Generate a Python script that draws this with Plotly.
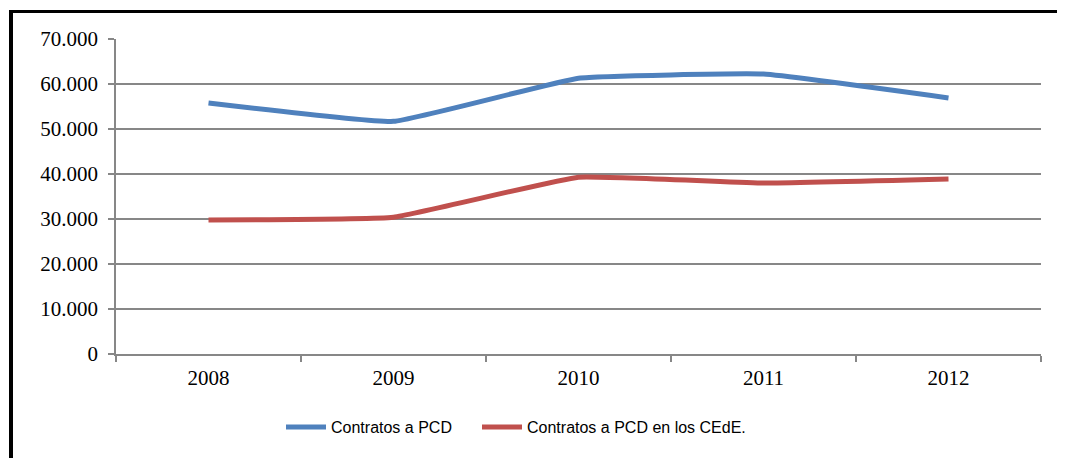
import plotly.graph_objects as go

years = ["2008", "2009", "2010", "2011", "2012"]
contratos_pcd = [55800, 51700, 61300, 62200, 56900]
contratos_cede = [29800, 30400, 39300, 38000, 38900]
y_ticks = [0, 10000, 20000, 30000, 40000, 50000, 60000, 70000]

fig = go.Figure()
fig.add_trace(go.Scatter(x=years, y=contratos_pcd, mode="lines", name="Contratos a PCD",
                         legend="legend",
                         line=dict(color="#4F81BD", width=5, shape="spline", smoothing=0.3)))
fig.add_trace(go.Scatter(x=years, y=contratos_cede, mode="lines", name="Contratos a PCD en los CEdE.",
                         legend="legend2",
                         line=dict(color="#C0504D", width=5, shape="spline", smoothing=0.3)))

# page body has an 8px offset; work in page coordinates
OFF = 8
W, H = 1065 - OFF, 458 - OFF
L, R, T, B = 116 - OFF, 24, 39 - OFF, 104
pw, ph = W - L - R, H - T - B

def px(x):
    return (x - OFF - L) / pw

def py(y):
    return (H - B - (y - OFF)) / ph

legend_style = dict(orientation="h", xanchor="left", y=py(427), yanchor="middle",
                    font=dict(family="Liberation Sans", size=16, color="black"),
                    itemwidth=40, bgcolor="rgba(0,0,0,0)")

fig.update_layout(
    template="none",
    width=W, height=H,
    margin=dict(l=L, r=R, t=T, b=B, autoexpand=False),
    paper_bgcolor="white", plot_bgcolor="white",
    separators=",.",
    showlegend=True,
    legend=dict(x=px(281), **legend_style),
    legend2=dict(x=px(477), **legend_style),
    xaxis=dict(type="category", range=[-0.5, 4.5], tickson="boundaries", ticks="outside",
               ticklen=6, tickcolor="#878787", tickwidth=1.5, automargin=False,
               ticklabelstandoff=4,
               showline=True, linecolor="#878787", linewidth=1.5, showgrid=False,
               tickfont=dict(family="Liberation Serif", size=21, color="black")),
    yaxis=dict(range=[0, 70000], tickvals=y_ticks, tickformat=",d", ticks="outside",
               ticklen=6, tickcolor="#878787", tickwidth=1.5, automargin=False,
               ticklabelstandoff=6,
               showline=True, linecolor="#878787", linewidth=1.5,
               showgrid=True, gridcolor="#878787", gridwidth=1.5, zeroline=False,
               tickfont=dict(family="Liberation Serif", size=21, color="black")),
    shapes=[
        dict(type="line", xref="paper", yref="paper", x0=px(11), x1=px(11), y0=py(10), y1=py(470),
             line=dict(color="black", width=4)),
        dict(type="line", xref="paper", yref="paper", x0=px(9), x1=px(1075), y0=py(11.5), y1=py(11.5),
             line=dict(color="black", width=3)),
    ],
)

fig.write_html("out.html")
